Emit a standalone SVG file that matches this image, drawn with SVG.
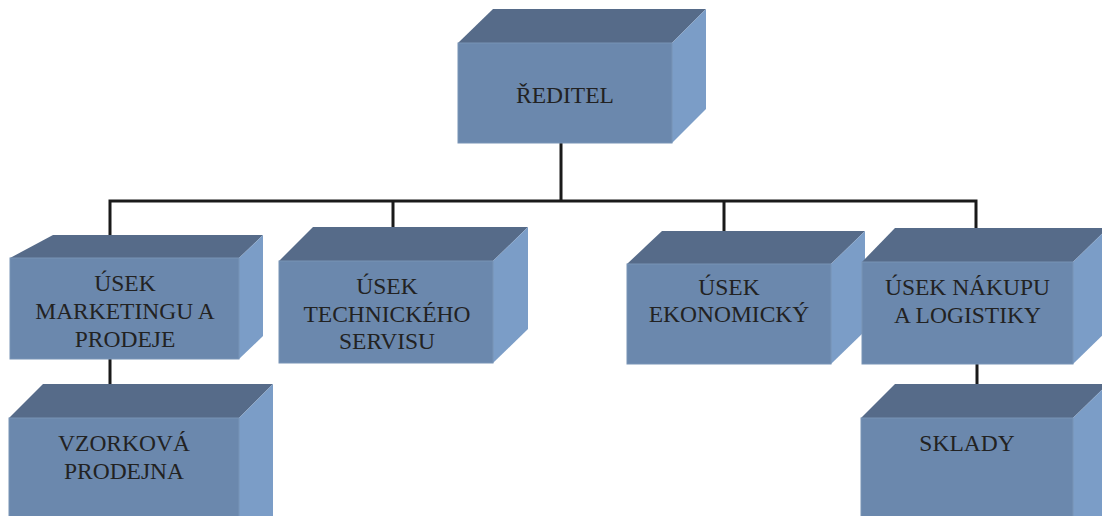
<svg xmlns="http://www.w3.org/2000/svg" width="1102" height="516" viewBox="0 0 1102 516">
<style>
.top{fill:#566b89}
.front{fill:#6b88ad;stroke:#7994b6;stroke-width:1}
.side{fill:#7b9dc7}
.lbl{font-family:"Liberation Serif","Times New Roman",serif;font-size:23.5px;fill:#222;text-anchor:middle}
.conn{stroke:#1a1a1a;stroke-width:3;fill:none}
</style>
<rect width="1102" height="516" fill="#ffffff"/>
<g id="connectors">
<path class="conn" d="M561 140 V201 M110 201 H976 M110 199.5 V242 M393 201 V232 M724 201 V236 M976 199.5 V233 M110 355 V390 M977 360 V390"/>
</g>
<g id="reditel">
<polygon class="top" points="458,43 493,9 706,9 672,43"/>
<polygon class="side" points="672,43 706,9 706,109 672,143"/>
<rect class="front" x="458" y="43" width="214" height="100"/>
<text class="lbl" x="565" y="103">ŘEDITEL</text>
</g>
<g id="usek-marketingu">
<polygon class="top" points="10,258 53,235 263,235 239,258"/>
<polygon class="side" points="239,258 263,235 263,336 239,359"/>
<rect class="front" x="10" y="258" width="229" height="101"/>
<text class="lbl" x="125" y="291">ÚSEK</text>
<text class="lbl" x="125" y="319">MARKETINGU A</text>
<text class="lbl" x="125" y="347">PRODEJE</text>
</g>
<g id="usek-technickeho">
<polygon class="top" points="279,261 313,227 528,227 493,261"/>
<polygon class="side" points="493,261 528,227 528,329 493,363"/>
<rect class="front" x="279" y="261" width="214" height="102"/>
<text class="lbl" x="387" y="294">ÚSEK</text>
<text class="lbl" x="387" y="322">TECHNICKÉHO</text>
<text class="lbl" x="387" y="349">SERVISU</text>
</g>
<g id="usek-ekonomicky">
<polygon class="top" points="627,264 662,231 865,231 831,264"/>
<polygon class="side" points="831,264 865,231 865,331 831,364"/>
<rect class="front" x="627" y="264" width="204" height="100"/>
<text class="lbl" x="729" y="295">ÚSEK</text>
<text class="lbl" x="729" y="322">EKONOMICKÝ</text>
</g>
<g id="usek-nakupu">
<polygon class="top" points="862,262 895,228 1108,228 1073,262"/>
<polygon class="side" points="1073,262 1108,228 1108,330 1073,364"/>
<rect class="front" x="862" y="262" width="211" height="102"/>
<text class="lbl" x="967.5" y="295">ÚSEK NÁKUPU</text>
<text class="lbl" x="967.5" y="323">A LOGISTIKY</text>
</g>
<g id="vzorkova-prodejna">
<polygon class="top" points="9,418 43,384 273,384 239,418"/>
<polygon class="side" points="239,418 273,384 273,520 239,520"/>
<rect class="front" x="9" y="418" width="230" height="110"/>
<text class="lbl" x="124" y="451">VZORKOVÁ</text>
<text class="lbl" x="124" y="479">PRODEJNA</text>
</g>
<g id="sklady">
<polygon class="top" points="861,418 895,384 1108,384 1073,418"/>
<polygon class="side" points="1073,418 1108,384 1108,520 1073,520"/>
<rect class="front" x="861" y="418" width="212" height="110"/>
<text class="lbl" x="967" y="451">SKLADY</text>
</g>
</svg>
